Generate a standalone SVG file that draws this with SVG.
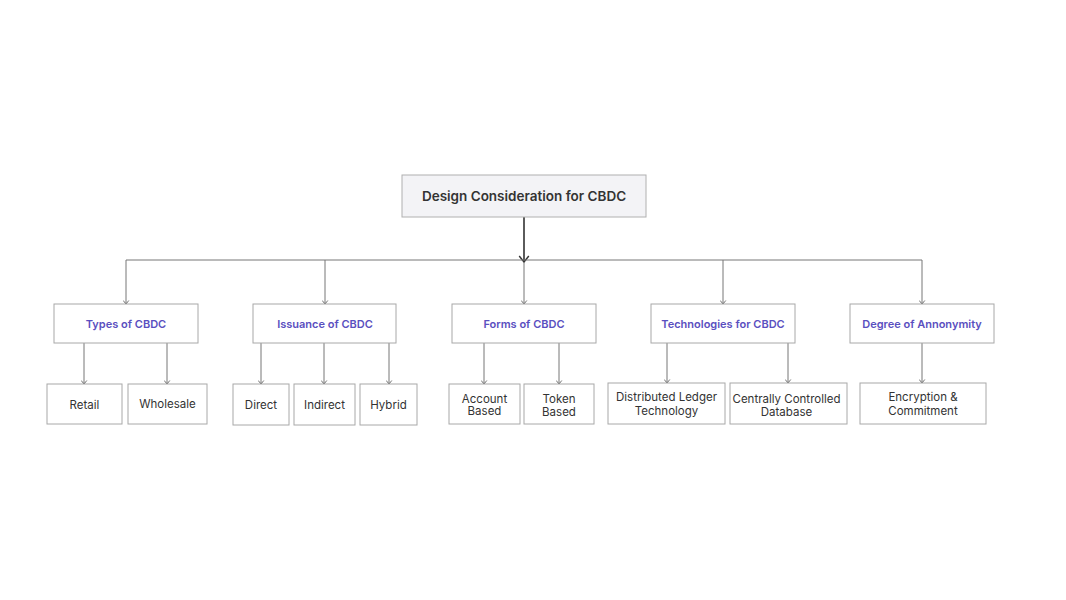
<svg xmlns="http://www.w3.org/2000/svg" width="1066" height="600" viewBox="0 0 1066 600">
<defs>
<marker id="chev" viewBox="0 0 10 10" refX="9" refY="5" markerWidth="7" markerHeight="7" markerUnits="userSpaceOnUse" orient="auto">
<path d="M4,1 L9,5 L4,9" fill="none" stroke="#666" stroke-width="1.3"/>
</marker>
<marker id="chevBig" viewBox="0 0 10 10" refX="9" refY="5" markerWidth="12" markerHeight="12" markerUnits="userSpaceOnUse" orient="auto">
<path d="M4,1 L9,5 L4,9" fill="none" stroke="#333" stroke-width="1.2"/>
</marker>
</defs>
<style>
.bg{fill:#ffffff}
.root{fill:#f3f3f6;stroke:#b0b0b0;stroke-width:1}
.box{fill:#ffffff;stroke:#a8a8a8;stroke-width:1}
.t-root{font-family:Inter,"Open Sans","Liberation Sans",sans-serif;font-size:13.5px;font-weight:600;fill:#333333;text-anchor:middle}
.t-cat{font-family:Inter,"Open Sans","Liberation Sans",sans-serif;font-size:11px;font-weight:600;fill:#5a4fc0;text-anchor:middle}
.t-leaf{font-family:Inter,"Open Sans","Liberation Sans",sans-serif;font-size:11.5px;font-weight:400;fill:#333333;text-anchor:middle}
.ln{fill:none;stroke:#777;stroke-width:1}
.main{fill:none;stroke:#333;stroke-width:1.6}
</style>
<rect class="bg" x="0" y="0" width="1066" height="600"/>

<g id="connectors">
<line class="main" x1="524" y1="217" x2="524" y2="262" marker-end="url(#chevBig)"/>
<line class="ln" x1="126" y1="260" x2="922" y2="260"/>
<line class="ln" x1="126" y1="260" x2="126" y2="304" marker-end="url(#chev)"/>
<line class="ln" x1="325" y1="260" x2="325" y2="304" marker-end="url(#chev)"/>
<line class="ln" x1="524" y1="262" x2="524" y2="304" marker-end="url(#chev)"/>
<line class="ln" x1="723" y1="260" x2="723" y2="304" marker-end="url(#chev)"/>
<line class="ln" x1="922" y1="260" x2="922" y2="304" marker-end="url(#chev)"/>
<line class="ln" x1="84" y1="343" x2="84" y2="384" marker-end="url(#chev)"/>
<line class="ln" x1="167" y1="343" x2="167" y2="384" marker-end="url(#chev)"/>
<line class="ln" x1="261" y1="343" x2="261" y2="384" marker-end="url(#chev)"/>
<line class="ln" x1="324" y1="343" x2="324" y2="384" marker-end="url(#chev)"/>
<line class="ln" x1="389" y1="343" x2="389" y2="384" marker-end="url(#chev)"/>
<line class="ln" x1="484" y1="343" x2="484" y2="384" marker-end="url(#chev)"/>
<line class="ln" x1="559" y1="343" x2="559" y2="384" marker-end="url(#chev)"/>
<line class="ln" x1="667" y1="343" x2="667" y2="383" marker-end="url(#chev)"/>
<line class="ln" x1="788" y1="343" x2="788" y2="383" marker-end="url(#chev)"/>
<line class="ln" x1="922" y1="343" x2="922" y2="383" marker-end="url(#chev)"/>
</g>

<g id="root">
<rect class="root" x="402" y="175" width="244" height="42"/>
<text class="t-root" x="524" y="201">Design Consideration for CBDC</text>
</g>

<g id="types">
<rect class="box" x="54" y="304" width="144" height="39"/>
<text class="t-cat" x="126" y="327.5">Types of CBDC</text>
</g>
<g id="issuance">
<rect class="box" x="253" y="304" width="143" height="39"/>
<text class="t-cat" x="325" y="327.5">Issuance of CBDC</text>
</g>
<g id="forms">
<rect class="box" x="452" y="304" width="144" height="39"/>
<text class="t-cat" x="524" y="327.5">Forms of CBDC</text>
</g>
<g id="technologies">
<rect class="box" x="651" y="304" width="144" height="39"/>
<text class="t-cat" x="723" y="327.5">Technologies for CBDC</text>
</g>
<g id="degree">
<rect class="box" x="850" y="304" width="144" height="39"/>
<text class="t-cat" x="922" y="327.5">Degree of Annonymity</text>
</g>

<g id="retail">
<rect class="box" x="47" y="384" width="75" height="40"/>
<text class="t-leaf" x="84.5" y="409">Retail</text>
</g>
<g id="wholesale">
<rect class="box" x="128" y="384" width="79" height="40"/>
<text class="t-leaf" x="167.5" y="408">Wholesale</text>
</g>
<g id="direct">
<rect class="box" x="233" y="384" width="56" height="41"/>
<text class="t-leaf" x="261" y="409">Direct</text>
</g>
<g id="indirect">
<rect class="box" x="294" y="384" width="61" height="41"/>
<text class="t-leaf" x="324.5" y="409">Indirect</text>
</g>
<g id="hybrid">
<rect class="box" x="360" y="384" width="57" height="41"/>
<text class="t-leaf" x="388.5" y="409">Hybrid</text>
</g>
<g id="account">
<rect class="box" x="449" y="384" width="71" height="40"/>
<text class="t-leaf" x="484.5" y="402.5">Account</text>
<text class="t-leaf" x="484.5" y="415">Based</text>
</g>
<g id="token">
<rect class="box" x="524" y="384" width="70" height="40"/>
<text class="t-leaf" x="559" y="403">Token</text>
<text class="t-leaf" x="559" y="415.5">Based</text>
</g>
<g id="dlt">
<rect class="box" x="608" y="383" width="117" height="41"/>
<text class="t-leaf" x="666.5" y="401">Distributed Ledger</text>
<text class="t-leaf" x="666.5" y="414.5">Technology</text>
</g>
<g id="centrally">
<rect class="box" x="730" y="383" width="117" height="41"/>
<text class="t-leaf" x="786.5" y="402.5">Centrally Controlled</text>
<text class="t-leaf" x="786.5" y="416">Database</text>
</g>
<g id="encryption">
<rect class="box" x="860" y="383" width="126" height="41"/>
<text class="t-leaf" x="923" y="401">Encryption &amp;</text>
<text class="t-leaf" x="923" y="414.5">Commitment</text>
</g>
</svg>
